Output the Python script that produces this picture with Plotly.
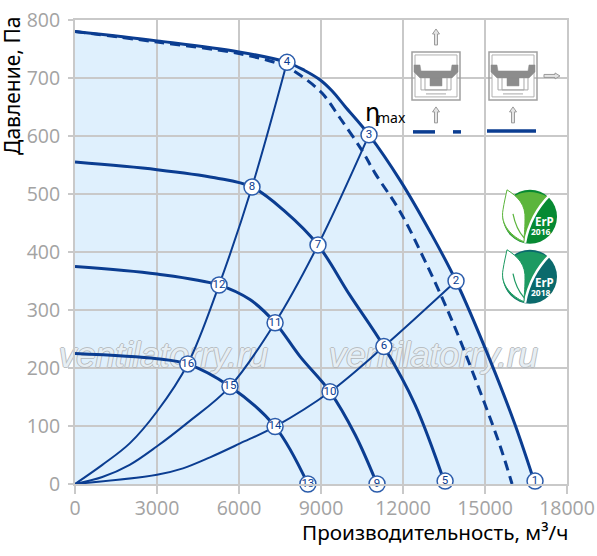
import plotly.graph_objects as go

W, H = 597, 556
L, R, T, B = 75, 567, 20, 484.5
BLUE = "#0b3d91"
GRID = "#c9c9c9"
TICK = "#a3a3a3"
PIC = "#8c8c8c"

outer_x = [0, 3000, 6000, 7756, 8400, 8960, 9400, 9880, 10756, 11890, 12990, 13940, 15180, 16100, 16830]
outer_y = [780, 764, 745, 727, 713, 697, 678, 651, 602, 524, 435, 350, 214, 102, 0]
dash_x = [0, 3000, 6000, 7600, 8232, 9036, 9695, 10500, 10976, 11890, 12800, 13720, 14630, 15550, 15990]
dash_y = [780, 762, 742, 722, 705, 674, 631, 575, 536, 470, 385, 290, 183, 66, 0]
c2_x = [0, 3000, 5120, 6475, 7680, 8890, 10050, 11300, 12440, 13540]
c2_y = [555, 542, 528, 512, 470, 412, 326, 237, 137, 0]
c3_x = [0, 3000, 5270, 6400, 7320, 8230, 9330, 10250, 11050]
c3_y = [375, 362, 343, 318, 278, 220, 159, 85, 0]
c4_x = [0, 3000, 4100, 5670, 7320, 8520]
c4_y = [225, 216, 207, 168, 99, 0]
ra_x = [0, 1000, 2000, 3000, 4125, 5270, 6475, 7756]
ra_y = [0, 33, 70, 125, 207, 343, 512, 727]
rb_x = [0, 1000, 2000, 3000, 4100, 5670, 7320, 8890, 10756]
rb_y = [0, 12, 33, 65, 105, 168, 278, 412, 602]
rc_x = [0, 3000, 3950, 4940, 6040, 7320, 9330, 11300, 13940]
rc_y = [0, 16, 27, 46, 70, 99, 159, 237, 350]

pt_labels = ["1", "2", "3", "4", "5", "6", "7", "8", "9", "10", "11", "12", "13", "14", "15", "16"]
pt_x = [16830, 13940, 10756, 7756, 13540, 11300, 8890, 6475, 11050, 9330, 7320, 5270, 8520, 7320, 5670, 4125]
pt_y = [5, 350, 602, 727, 5, 237, 412, 512, 0, 159, 278, 343, 0, 99, 168, 207]

x_ticks = [0, 3000, 6000, 9000, 12000, 15000, 18000]
y_ticks = [0, 100, 200, 300, 400, 500, 600, 700, 800]

mark_text = "ventilatorry.ru"
mark_x = [3232, 13110]
mark_y = [217, 217]


def px(x, y):
    return (x - L) / (R - L), (B - y) / (B - T)


def path(cmds):
    out = []
    for c in cmds:
        if isinstance(c, str):
            out.append(c)
        else:
            a, b = px(*c)
            out.append(f"{a:.5f},{b:.5f}")
    return " ".join(out)


def catmull(xs, ys):
    d = [f"M{xs[0]},{ys[0]}"]
    n = len(xs)
    for i in range(n - 1):
        x0, y0 = xs[max(i - 1, 0)], ys[max(i - 1, 0)]
        x1, y1 = xs[i], ys[i]
        x2, y2 = xs[i + 1], ys[i + 1]
        x3, y3 = xs[min(i + 2, n - 1)], ys[min(i + 2, n - 1)]
        d.append(f"C{x1 + (x2 - x0) / 6:.1f},{y1 + (y2 - y0) / 6:.1f} "
                 f"{x2 - (x3 - x1) / 6:.1f},{y2 - (y3 - y1) / 6:.1f} {x2},{y2}")
    return " ".join(d)


shapes = []
shapes.append(dict(type="path", xref="x", yref="y", layer="below", line=dict(width=0),
                   fillcolor="#dff0fd",
                   path=catmull(outer_x, outer_y) + " L0,0 Z"))


def prect(x0, y0, x1, y1, **kw):
    a0, b0 = px(x0, y1)
    a1, b1 = px(x1, y0)
    d = dict(type="rect", xref="paper", yref="paper", x0=a0, x1=a1, y0=b0, y1=b1,
             line=dict(width=0))
    d.update(kw)
    shapes.append(d)


prect(402, 23, 565, 145, fillcolor="white", layer="between")
prect(500, 186, 560, 306, fillcolor="white", layer="between")


def pline(pts, color, width, layer="above"):
    shapes.append(dict(type="path", xref="paper", yref="paper", layer=layer,
                       line=dict(color=color, width=width),
                       path=path(["M", pts[0]] + sum([["L", p] for p in pts[1:]], []))))


def fpoly(pts, fill, color=PIC, width=1):
    cmds = ["M", pts[0]] + sum([["L", p] for p in pts[1:]], []) + ["Z"]
    shapes.append(dict(type="path", xref="paper", yref="paper", layer="above",
                       fillcolor=fill, line=dict(color=color, width=width), path=path(cmds)))


def up_arrow(x, y0, y1):
    fpoly([(x - 1.5, y1), (x - 1.5, y0 + 5), (x - 3.5, y0 + 5), (x, y0), (x + 3.5, y0 + 5),
           (x + 1.5, y0 + 5), (x + 1.5, y1)], "#e4e4e4", "#9a9a9a", 1)


def unit(x0):
    y0 = 52
    prect(x0, y0, x0 + 48, y0 + 48, fillcolor="rgba(0,0,0,0)",
          line=dict(color="#a0a0a0", width=1.5))
    prect(x0 + 3, y0 + 3, x0 + 45, y0 + 45, fillcolor="white", line=dict(color="#b0b0b0", width=1))
    fpoly([(x0 + 2, y0 + 13), (x0 + 8, y0 + 13), (x0 + 9, y0 + 19), (x0 + 39, y0 + 19),
           (x0 + 40, y0 + 13), (x0 + 46, y0 + 13), (x0 + 46, y0 + 20), (x0 + 40, y0 + 26),
           (x0 + 8, y0 + 26), (x0 + 2, y0 + 20)], PIC, PIC, 0.5)
    fpoly([(x0 + 18, y0 + 26), (x0 + 30, y0 + 26), (x0 + 30, y0 + 34), (x0 + 18, y0 + 34)], PIC, PIC, 0.5)
    for a, b in [(9, 39), (13, 35)]:
        pline([(x0 + a, y0 + 26), (x0 + a, y0 + 38), (x0 + b, y0 + 38), (x0 + b, y0 + 26)], "#a8a8a8", 1)
    pline([(x0 + 14, y0 + 42), (x0 + 34, y0 + 42)], "#a8a8a8", 1)


unit(412)
unit(489)
up_arrow(436, 29, 45)
up_arrow(436, 107, 123)
up_arrow(513, 107, 123)
fpoly([(544, 74.5), (555, 74.5), (555, 73), (560, 76), (555, 79), (555, 77.5), (544, 77.5)],
      "#e4e4e4", "#9a9a9a", 1)
pline([(413, 132), (435, 132)], BLUE, 3.5)
pline([(453, 132), (461, 132)], BLUE, 3.5)
pline([(487, 131), (536, 131)], BLUE, 3.5)


def logo(cx, cy, light, dark):
    P = lambda a, b: (cx + a, cy + b)
    a, b = px(cx - 27, cy + 27)
    c, d = px(cx + 27, cy - 27)
    shapes.append(dict(type="circle", xref="paper", yref="paper", x0=a, x1=c, y0=b, y1=d,
                       fillcolor=dark, line=dict(width=0), layer="above"))
    shapes.append(dict(type="path", xref="paper", yref="paper", layer="above", fillcolor=light,
                       line=dict(width=0),
                       path=path(["M", P(18, -20), "Q", P(0, -2), P(-5, 26),
                                  "C", P(-22, 22), P(-30, 5), P(-27, -5),
                                  "C", P(-24, -20), P(-5, -32), P(18, -20), "Z"])))
    shapes.append(dict(type="path", xref="paper", yref="paper", layer="above",
                       line=dict(color="white", width=2.5),
                       path=path(["M", P(20, -22), "Q", P(0, -2), P(-5, 26)])))
    shapes.append(dict(type="path", xref="paper", yref="paper", layer="above", fillcolor="white",
                       line=dict(color=light, width=1),
                       path=path(["M", P(-23, -27), "C", P(-12, -20), P(-4, -12), P(-5, 3),
                                  "C", P(-5, 12), P(-6, 20), P(-6, 25),
                                  "C", P(-18, 20), P(-30, 8), P(-27, -7),
                                  "C", P(-26, -14), P(-24, -22), P(-23, -27), "Z"])))
    shapes.append(dict(type="path", xref="paper", yref="paper", layer="above",
                       line=dict(color=light, width=1.2),
                       path=path(["M", P(-17, -3), "Q", P(-14, 12), P(-6, 21)])))


logo(530, 217, "#5cb53c", "#078a33")
logo(530, 277, "#1d9a62", "#0b6a6c")

fig = go.Figure()
fig.add_trace(go.Scatter(x=mark_x, y=mark_y, mode="text", text=[mark_text, mark_text],
                         textposition="middle center", cliponaxis=False,
                         textfont=dict(family="Liberation Sans", size=35, style="italic",
                                       color="rgba(238,246,252,0.9)",
                                       shadow="-1px 0 #b4b8bb, 1px 0 #b4b8bb, 0 1px #b4b8bb, 0 -1px #b4b8bb")))
for xs, ys in [(ra_x, ra_y), (rb_x, rb_y), (rc_x, rc_y)]:
    fig.add_trace(go.Scatter(x=xs, y=ys, mode="lines", line=dict(color=BLUE, width=2, shape="spline")))
for xs, ys in [(c2_x, c2_y), (c3_x, c3_y), (c4_x, c4_y)]:
    fig.add_trace(go.Scatter(x=xs, y=ys, mode="lines", line=dict(color=BLUE, width=3, shape="spline")))
fig.add_trace(go.Scatter(x=dash_x, y=dash_y, mode="lines",
                         line=dict(color=BLUE, width=3, shape="spline", dash="10px,6px")))
fig.add_trace(go.Scatter(x=outer_x, y=outer_y, mode="lines", line=dict(color=BLUE, width=3, shape="spline")))
fig.add_trace(go.Scatter(x=pt_x, y=pt_y, mode="markers+text", text=pt_labels, textposition="middle center",
                         cliponaxis=False,
                         textfont=dict(family="Roboto", size=11.5, color=BLUE),
                         marker=dict(size=16, color="white", line=dict(color="#2b5cab", width=1.5))))

anns = []


def text(x, y, s, size, color="black", family="Noto Sans", angle=0, **kw):
    a, b = px(x, y)
    anns.append(dict(xref="paper", yref="paper", x=a, y=b, text=s, showarrow=False, xanchor="center",
                     yanchor="middle", textangle=angle,
                     font=dict(size=size, color=color, family=family, **kw)))


text(12, 86, "Давление, Па", 21, angle=-90)
text(435, 533, "Производительность, м³/ч", 20.7)
text(372, 113, "η", 24, family="DejaVu Sans")
text(391, 118, "max", 14, family="Noto Sans")
text(544, 222, "ErP", 11.5, color="white", family="Noto Sans", weight="bold")
text(541, 231.5, "2016", 8.5, color="white", family="Noto Sans", weight="bold")
text(544, 283, "ErP", 11.5, color="white", family="Noto Sans", weight="bold")
text(541, 293, "2018", 8.5, color="white", family="Noto Sans", weight="bold")

axis_common = dict(showgrid=True, gridcolor=GRID, gridwidth=2, automargin=False,
                   zeroline=False, showline=True, mirror=True, linecolor=GRID, linewidth=2,
                   ticks="outside", tickwidth=2, tickcolor=GRID, tickformat="d",
                   tickfont=dict(family="Open Sans", size=19.5, color=TICK))

fig.update_layout(
    width=W, height=H, autosize=False, showlegend=False,
    paper_bgcolor="white", plot_bgcolor="white",
    margin=dict(l=L, r=W - R, t=T, b=H - B, autoexpand=False),
    shapes=shapes, annotations=anns,
    xaxis=dict(range=[0, 18000], tickvals=x_ticks, ticklen=8, ticklabelstandoff=-2, **axis_common),
    yaxis=dict(range=[0, 800], tickvals=y_ticks, ticklen=5, ticklabelstandoff=4, **axis_common),
)
fig.write_html("out.html", config={"displayModeBar": False},
               post_script="document.body.style.margin='0';")
